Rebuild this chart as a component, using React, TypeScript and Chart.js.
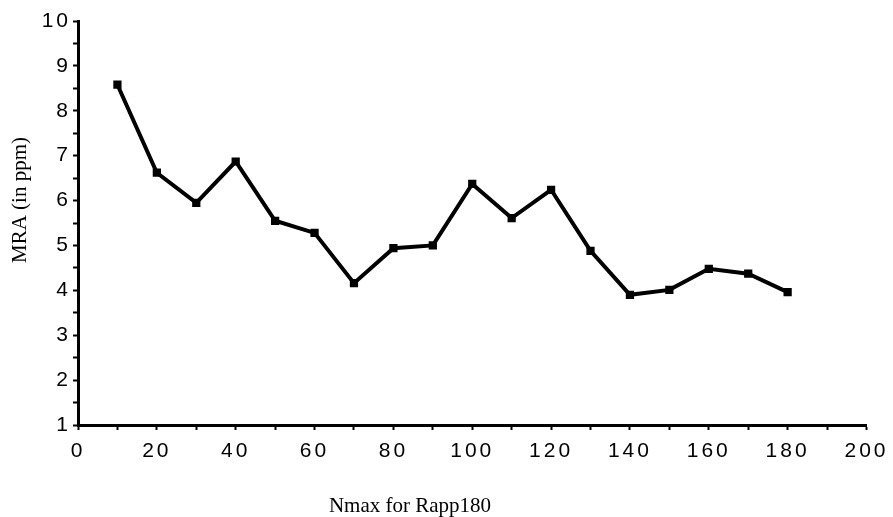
import React, { useEffect, useRef } from "react";
import { Chart, registerables } from "chart.js";

Chart.register(...registerables);

const nmax = [10, 20, 30, 40, 50, 60, 70, 80, 90, 100, 110, 120, 130, 140, 150, 160, 170, 180];
const mra = [8.58, 6.62, 5.95, 6.87, 5.55, 5.28, 4.16, 4.94, 5.0, 6.37, 5.61, 6.24, 4.88, 3.9, 4.01, 4.48, 4.37, 3.96];
const xTitle = "Nmax for Rapp180";
const yTitle = "MRA (in ppm)";

const spacingPlugin = {
  id: "spacing",
  beforeDraw(chart: any) {
    (chart.ctx as any).letterSpacing = "3px";
  },
};

const titlesPlugin = {
  id: "titles",
  afterDraw(chart: any) {
    const ctx = chart.ctx;
    ctx.save();
    (ctx as any).letterSpacing = "0px";
    ctx.fillStyle = "#000";
    ctx.font = "21px 'Liberation Serif'";
    ctx.textAlign = "center";
    ctx.textBaseline = "alphabetic";
    ctx.fillText(xTitle, 410, 512);
    ctx.translate(26, 200);
    ctx.rotate(-Math.PI / 2);
    ctx.fillText(yTitle, 0, 0);
    ctx.restore();
  },
};

export default function App() {
  const ref = useRef<HTMLCanvasElement>(null);
  useEffect(() => {
    document.body.style.margin = "0";
    const ctx = ref.current!;
    const chart = new Chart(ctx, {
      type: "line",
      data: {
        datasets: [
          {
            data: nmax.map((x, i) => ({ x, y: mra[i] })),
            borderColor: "#000",
            backgroundColor: "#000",
            borderWidth: 4,
            pointStyle: "rect",
            pointRadius: 3,
            tension: 0,
          },
        ],
      },
      options: {
        animation: false,
        responsive: false,
        maintainAspectRatio: false,
        layout: { padding: { left: 0, top: 21, right: 24, bottom: 0 } },
        plugins: { legend: { display: false }, tooltip: { enabled: false } },
        scales: {
          x: {
            type: "linear",
            min: 0,
            max: 200,
            afterFit: (s: any) => { s.height = 92; },
            border: { color: "#000", width: 3 },
            grid: { drawOnChartArea: false, color: "#000", tickLength: 5, tickWidth: 2 },
            ticks: {
              stepSize: 10,
              autoSkip: false,
              maxRotation: 0,
              color: "#000",
              padding: 9,
              font: { family: "Liberation Sans", size: 21 },
              callback: (v: any) => (Number(v) % 20 === 0 ? String(v) : ""),
            },
          },
          y: {
            type: "linear",
            min: 1,
            max: 10,
            afterFit: (s: any) => { s.width = 78; },
            border: { color: "#000", width: 3 },
            grid: { drawOnChartArea: false, color: "#000", tickLength: 5, tickWidth: 2 },
            ticks: {
              stepSize: 0.5,
              autoSkip: false,
              color: "#000",
              padding: 2,
              font: { family: "Liberation Sans", size: 21 },
              callback: (v: any) => (Number.isInteger(Number(v)) ? String(v) : ""),
            },
          },
        },
      },
      plugins: [spacingPlugin, titlesPlugin],
    });
    return () => chart.destroy();
  }, []);
  return <canvas ref={ref} width={893} height={517} style={{ display: "block" }} />;
}
